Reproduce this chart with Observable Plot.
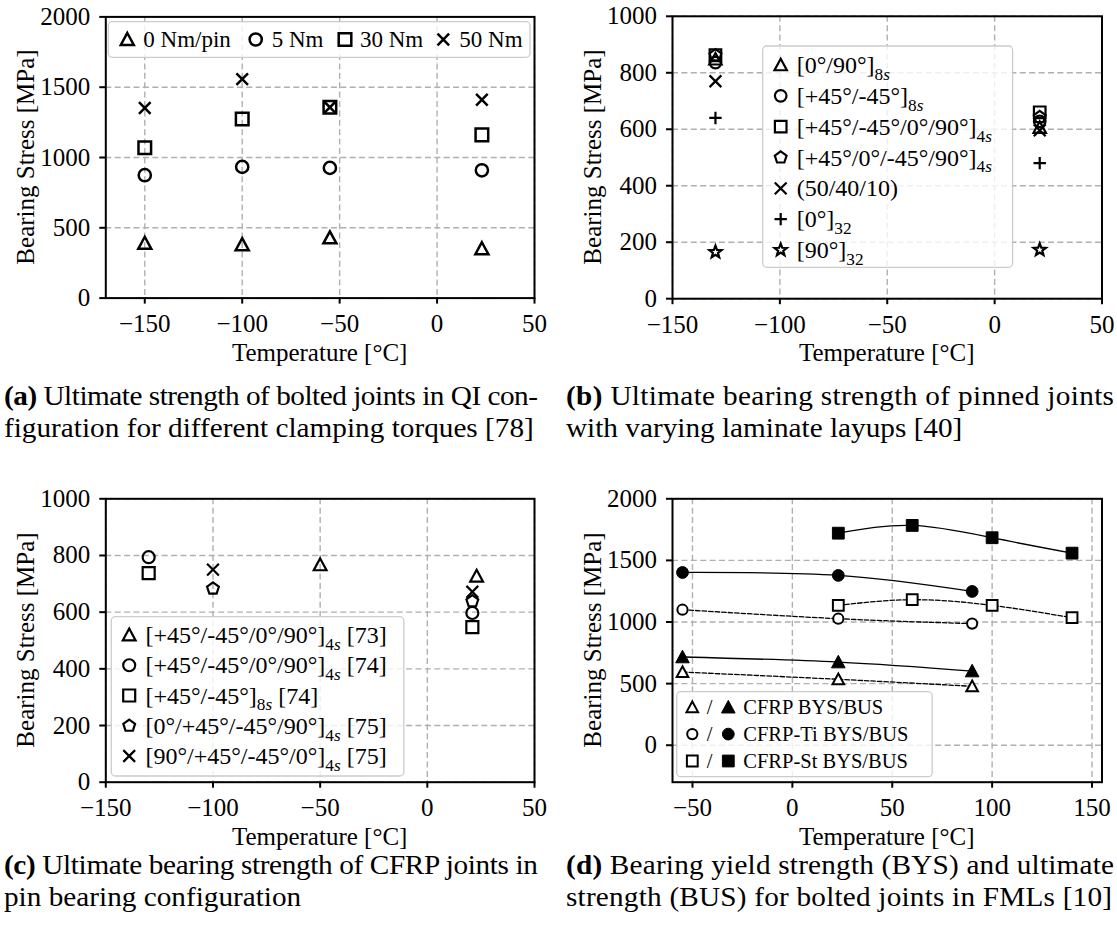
<!DOCTYPE html>
<html><head><meta charset="utf-8">
<script src="https://cdn.jsdelivr.net/npm/d3@7"></script>
<script src="https://cdn.jsdelivr.net/npm/@observablehq/plot@0.6"></script>
<style>
html,body{margin:0;padding:0;background:#fff;}
#fig{position:relative;width:1117px;height:929px;overflow:hidden;background:#fff;}
#fig > div{position:absolute;}
#caps{position:absolute;left:0;top:0;}
</style></head><body><div id="fig"></div>
<script>
// ---------------- DATA ----------------
// (a) bolted joints, QI, clamping torques
const aTemps = [-150, -100, -55, 23];
const aLabels = ["0 Nm/pin", "5 Nm", "30 Nm", "50 Nm"];
const a0Nm  = [390, 380, 429, 351];
const a5Nm  = [874, 933, 926, 909];
const a30Nm = [1069, 1274, 1357, 1161];
const a50Nm = [1352, 1557, 1357, 1411];
const aXTicks = [-150, -100, -50, 0, 50];
const aYTicks = [0, 500, 1000, 1500, 2000];

// (b) pinned joints, laminate layups
const bTemps = [-130, 21];
const bLabels = [["[0°/90°]", "8s"], ["[+45°/-45°]", "8s"], ["[+45°/-45°/0°/90°]", "4s"], ["[+45°/0°/-45°/90°]", "4s"], ["(50/40/10)", ""], ["[0°]", "32"], ["[90°]", "32"]];
const b090    = [848, 606];
const b4545   = [836, 628];
const bQI1    = [862, 660];
const bQI2    = [862, 643];
const b504010 = [770, 596];
const b0      = [640, 480];
const b90     = [165, 173];
const bXTicks = [-150, -100, -50, 0, 50];
const bYTicks = [0, 200, 400, 600, 800, 1000];

// (c) CFRP pin bearing
const cLabels = [["[+45°/-45°/0°/90°]", "4s", " [73]"], ["[+45°/-45°/0°/90°]", "4s", " [74]"], ["[+45°/-45°]", "8s", " [74]"], ["[0°/+45°/-45°/90°]", "4s", " [75]"], ["[90°/+45°/-45°/0°]", "4s", " [75]"]];
const c73Temps = [-50, 23];   const c73 = [767, 727];
const c74Temps = [-130, 21];  const c74 = [794, 597];
const c74bTemps = [-130, 21]; const c74b = [738, 547];
const c75Temps = [-100, 21];  const c75 = [683, 638];
const c75bTemps = [-100, 21]; const c75b = [750, 672];
const cXTicks = [-150, -100, -50, 0, 50];
const cYTicks = [0, 200, 400, 600, 800, 1000];

// (d) FMLs BYS / BUS
const dLabels = ["CFRP BYS/BUS", "CFRP-Ti BYS/BUS", "CFRP-St BYS/BUS"];
const dTempsCFRP = [-55, 23, 90];
const dCFRP_BYS = [594, 535, 478];
const dCFRP_BUS = [716, 675, 602];
const dTi_BYS = [1100, 1027, 987];
const dTi_BUS = [1402, 1378, 1248];
const dTempsSt = [23, 60, 100, 140];
const dSt_BYS = [1135, 1181, 1135, 1035];
const dSt_BUS = [1721, 1784, 1684, 1559];
const dXTicks = [-50, 0, 50, 100, 150];
const dYTicks = [0, 500, 1000, 1500, 2000];

const captions = [
  {b: "(a)", t: " Ultimate strength of bolted joints in QI con-", x: 4, x2: 538, y: 405, just: true},
  {b: "", t: "figuration for different clamping torques [78]", x: 4, x2: 534, y: 437, just: false},
  {b: "(b)", t: " Ultimate bearing strength of pinned joints", x: 566, x2: 1114, y: 405, just: true},
  {b: "", t: "with varying laminate layups [40]", x: 566, x2: 848, y: 437, just: false},
  {b: "(c)", t: " Ultimate bearing strength of CFRP joints in", x: 4, x2: 538, y: 874, just: true},
  {b: "", t: "pin bearing configuration", x: 4, x2: 309, y: 906, just: false},
  {b: "(d)", t: " Bearing yield strength (BYS) and ultimate", x: 566, x2: 1114, y: 874, just: true},
  {b: "", t: "strength (BUS) for bolted joints in FMLs [10]", x: 566, x2: 1112, y: 906, just: true}
];

// ---------------- SYMBOLS ----------------
function mk(f){ return {draw(ctx, size){ f(ctx, Math.sqrt(size / Math.PI)); }}; }
const SYM = {
  tri: mk((c, r) => { c.moveTo(0, -r); c.lineTo(r, r * 0.85); c.lineTo(-r, r * 0.85); c.closePath(); }),
  circle: mk((c, r) => { c.moveTo(r, 0); c.arc(0, 0, r, 0, 2 * Math.PI); }),
  square: mk((c, r) => { c.rect(-r, -r, 2 * r, 2 * r); }),
  pentagon: mk((c, r) => { for (let i = 0; i < 5; i++) { const a = -Math.PI / 2 + i * 2 * Math.PI / 5; const x = r * Math.cos(a), y = r * Math.sin(a); i ? c.lineTo(x, y) : c.moveTo(x, y); } c.closePath(); }),
  times: mk((c, r) => { c.moveTo(-r, -r); c.lineTo(r, r); c.moveTo(-r, r); c.lineTo(r, -r); }),
  plus: mk((c, r) => { c.moveTo(-r, 0); c.lineTo(r, 0); c.moveTo(0, -r); c.lineTo(0, r); }),
  star: mk((c, r) => { for (let i = 0; i < 10; i++) { const a = -Math.PI / 2 + i * Math.PI / 5; const rr = i % 2 ? r * 0.42 : r; const x = rr * Math.cos(a), y = rr * Math.sin(a); i ? c.lineTo(x, y) : c.moveTo(x, y); } c.closePath(); })
};
function symPath(s, r){ const p = d3.path(); s.draw(p, Math.PI * r * r); return p.toString(); }

// ---------------- HELPERS ----------------
const fig = d3.select("#fig");
const FONT = "'Liberation Serif','Times New Roman',serif";
const FS = 25;
const tf = d => d < 0 ? "\u2212" + Math.abs(d) : String(d);
const GRID = {stroke: "#b0b0b0", strokeOpacity: 1, strokeWidth: 1.4, strokeDasharray: "6,3.4"};
const rows = (ts, vs) => ts.map((t, i) => ({t, v: vs[i]}));

function panel(p) {
  const svg = Plot.plot({
    width: p.w, height: p.h, marginLeft: p.mL, marginRight: p.mR, marginTop: p.mT, marginBottom: p.mB,
    x: {domain: p.xd, ticks: p.xt}, y: {domain: p.yd, ticks: p.yt},
    style: {fontFamily: FONT, fontSize: FS + "px", color: "black", background: "white", overflow: "visible"},
    marks: [
      Plot.gridX(p.xt, GRID), Plot.gridY(p.yt, GRID),
      ...p.marks,
      Plot.frame({stroke: "black", strokeWidth: 2}),
      Plot.axisX(p.xt, {tickSize: 6, tickPadding: 10.5, strokeWidth: 2, tickFormat: tf, label: null, fontSize: FS}),
      Plot.axisY(p.yt, {tickSize: 6, tickPadding: 9.6, strokeWidth: 2, tickFormat: tf, label: null, fontSize: FS})
    ]
  });
  const div = fig.append("div").style("left", p.left + "px").style("top", p.top + "px");
  div.node().appendChild(svg);
  const s = d3.select(svg);
  const fb = p.h - p.mB, fl = p.mL, fr = p.w - p.mR, ft = p.mT;
  s.append("text").attr("x", (fl + fr) / 2).attr("y", fb + 63).attr("text-anchor", "middle")
    .attr("font-size", FS).attr("fill", "black").attr("font-family", FONT).text("Temperature [°C]");
  s.append("text").attr("transform", `translate(${fl - 80.5 + 9},${(ft + fb) / 2}) rotate(-90)`)
    .attr("text-anchor", "middle").attr("font-size", FS).attr("fill", "black").attr("font-family", FONT).text("Bearing Stress [MPa]");
  return s;
}
function legendBox(s, x, y, w, h){
  return s.append("rect").attr("x", x).attr("y", y).attr("width", w).attr("height", h).attr("rx", 4)
    .attr("fill", "white").attr("fill-opacity", 0.8).attr("stroke", "#cccccc").attr("stroke-width", 1.3);
}
function legSym(s, sym, r, x, y, fill, sw){
  s.append("path").attr("d", symPath(sym, r)).attr("transform", `translate(${x},${y})`)
    .attr("fill", fill).attr("stroke", "black").attr("stroke-width", sw);
}
function legText(s, x, yc, parts, fs){
  const t = s.append("text").attr("x", x).attr("y", yc + 0.34 * fs).attr("font-size", fs)
    .attr("font-family", FONT).attr("fill", "black").attr("text-anchor", "start");
  t.append("tspan").text(parts[0]);
  const sub = parts[1], tail = parts[2];
  if (sub) {
    const ds = fs * 0.28, sf = fs * 0.72;
    const m = sub.match(/^(\d+)([a-z]*)$/);
    t.append("tspan").attr("dy", ds).attr("font-size", sf).text(m[1]);
    if (m[2]) t.append("tspan").attr("font-style", "italic").attr("font-size", sf).text(m[2]);
    if (tail) t.append("tspan").attr("dy", -ds).attr("font-size", fs).text(tail);
  }
}
const dotMark = (data, sym, r, fill, sw) => Plot.dot(data, {x: "t", y: "v", symbol: sym, r, fill, stroke: "black", strokeWidth: sw});

// ---------------- PANEL A ----------------
const aSpec = [[a0Nm, SYM.tri, 6.5], [a5Nm, SYM.circle, 6.1], [a30Nm, SYM.square, 6.3], [a50Nm, SYM.times, 5.8]];
const A = {left: 0, top: 0, w: 556, h: 385, mL: 105.3, mR: 22, mT: 16.4, mB: 385 - 297.6,
  xd: [-170, 50], yd: [0, 2000], xt: aXTicks, yt: aYTicks,
  marks: aSpec.map(([v, s, r]) => dotMark(rows(aTemps, v), s, r, "none", 2.5))};
const sA = panel(A);
legendBox(sA, 108.3, 21.7, 421.7, 35.6);
[[127.3, 143.3], [255.7, 271.7], [345, 360], [443.3, 459.3]].forEach(([mx, tx], i) => {
  legSym(sA, aSpec[i][1], aSpec[i][2], mx, 39.5, "none", 2.5);
  legText(sA, tx, 39.5, [aLabels[i]], 23);
});

// ---------------- PANEL B ----------------
const bSpec = [[b090, SYM.tri, 6.2], [b4545, SYM.circle, 5.8], [bQI1, SYM.square, 5.8], [bQI2, SYM.pentagon, 6.2],
  [b504010, SYM.times, 5.9], [b0, SYM.plus, 6.2], [b90, SYM.star, 6.4]];
const B = {left: 556, top: 0, w: 561, h: 385, mL: 116, mR: 15.5, mT: 15.8, mB: 385 - 298.2,
  xd: [-150, 50], yd: [0, 1000], xt: bXTicks, yt: bYTicks,
  marks: bSpec.map(([v, s, r]) => dotMark(rows(bTemps, v), s, r, "none", 2.2))};
const sB = panel(B);
legendBox(sB, 762.7 - 556, 46, 1012.6 - 762.7, 267.3 - 46);
bSpec.forEach(([v, s, r], i) => {
  const yc = 65 + i * 30.83;
  legSym(sB, s, r, 780.7 - 556, yc, "none", 2.2);
  legText(sB, 796.7 - 556, yc, bLabels[i], 24);
});

// ---------------- PANEL C ----------------
const cSpec = [[c73Temps, c73, SYM.tri, 6.4], [c74Temps, c74, SYM.circle, 6], [c74bTemps, c74b, SYM.square, 6],
  [c75Temps, c75, SYM.pentagon, 6.2], [c75bTemps, c75b, SYM.times, 5.9]];
const C = {left: 0, top: 470, w: 556, h: 375, mL: 105.3, mR: 22, mT: 28.3, mB: 470 + 375 - 781.7,
  xd: [-150, 50], yd: [0, 1000], xt: cXTicks, yt: cYTicks,
  marks: cSpec.map(([t, v, s, r]) => dotMark(rows(t, v), s, r, "none", 2.2))};
const sC = panel(C);
legendBox(sC, 111.3, 616.7 - 470, 403.8 - 111.3, 776 - 616.7);
cSpec.forEach(([t, v, s, r], i) => {
  const yc = 635 + i * 30.25 - 470;
  legSym(sC, s, r, 129.2, yc, "none", 2.2);
  legText(sC, 145.4, yc, cLabels[i], 24);
});

// ---------------- PANEL D ----------------
const dSpec = [
  {t: dTempsCFRP, v: dCFRP_BYS, s: SYM.tri, filled: false},
  {t: dTempsCFRP, v: dCFRP_BUS, s: SYM.tri, filled: true},
  {t: dTempsCFRP, v: dTi_BYS, s: SYM.circle, filled: false},
  {t: dTempsCFRP, v: dTi_BUS, s: SYM.circle, filled: true},
  {t: dTempsSt, v: dSt_BYS, s: SYM.square, filled: false},
  {t: dTempsSt, v: dSt_BUS, s: SYM.square, filled: true}
];
const rOpen = new Map([[SYM.tri, 5.8], [SYM.circle, 5.1], [SYM.square, 5.4]]);
const rFill = new Map([[SYM.tri, 6.8], [SYM.circle, 5.9], [SYM.square, 5.9]]);
const dLines = dSpec.map(d => Plot.line(rows(d.t, d.v), {x: "t", y: "v", curve: "natural", stroke: "black",
  strokeWidth: 1.3, strokeDasharray: d.filled ? null : "4.5,2"}));
const dDots = dSpec.map(d => d.filled ? dotMark(rows(d.t, d.v), d.s, rFill.get(d.s), "black", 1)
                                      : dotMark(rows(d.t, d.v), d.s, rOpen.get(d.s), "white", 2));
const D = {left: 556, top: 470, w: 561, h: 375, mL: 116, mR: 15.5, mT: 28.3, mB: 470 + 375 - 781.7,
  xd: [-60, 155], yd: [-300, 2000], xt: dXTicks, yt: dYTicks, marks: [...dLines, ...dDots]};
const sD = panel(D);
legendBox(sD, 676.7 - 556, 691.7 - 470, 932.2 - 676.7, 776.7 - 691.7);
[SYM.tri, SYM.circle, SYM.square].forEach((s, i) => {
  const yc = 707.2 + i * 26.9 - 470;
  legSym(sD, s, rOpen.get(s), 692.3 - 556, yc, "white", 2);
  sD.append("text").attr("x", 709.5 - 556).attr("y", yc + 0.34 * 20.5).attr("text-anchor", "middle")
    .attr("font-size", 20.5).attr("font-family", FONT).attr("fill", "black").text("/");
  legSym(sD, s, rFill.get(s), 728.3 - 556, yc, "black", 1);
  legText(sD, 743.3 - 556, yc, [dLabels[i]], 20.5);
});

// ---------------- CAPTIONS ----------------
const caps = fig.append("svg").attr("id", "caps").attr("width", 1117).attr("height", 929);
const capEls = captions.map(c => {
  const t = caps.append("text").attr("x", 0).attr("y", 0).attr("font-size", 27)
    .attr("font-family", FONT).attr("fill", "black").attr("text-anchor", "start");
  if (c.b) t.append("tspan").attr("font-weight", "bold").text(c.b);
  t.append("tspan").text(c.t);
  return {c, t};
});
// condensed caption face: horizontal factor taken from a full-width second line
const ref = capEls[1];
const f = (ref.c.x2 - ref.c.x) / ref.t.node().getComputedTextLength();
capEls.forEach(({c, t}) => {
  t.attr("transform", `translate(${c.x},${c.y}) scale(${f},1)`);
  if (c.just) t.attr("textLength", (c.x2 - c.x) / f).attr("lengthAdjust", "spacing");
});
</script></body></html>
